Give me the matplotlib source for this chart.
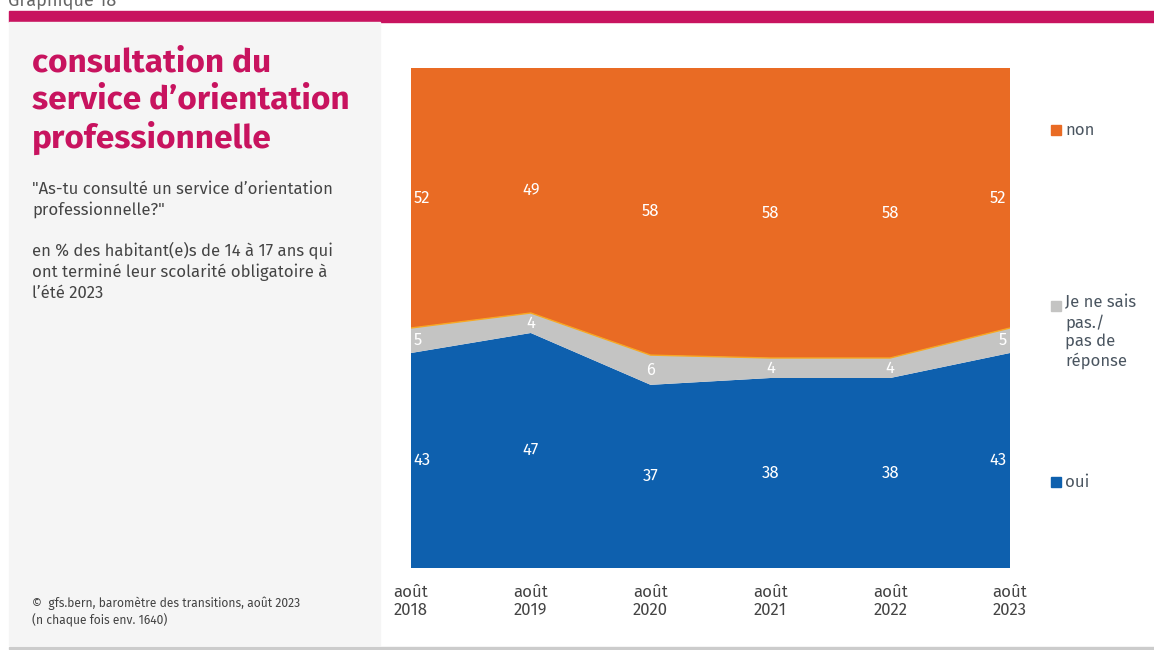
import numpy as np
import matplotlib.pyplot as plt
from matplotlib.patches import Rectangle

plt.rcParams['font.family'] = ['Fira Sans', 'Open Sans', 'DejaVu Sans']

years = ['août\n2018', 'août\n2019', 'août\n2020', 'août\n2021', 'août\n2022', 'août\n2023']
oui = [43, 47, 37, 38, 38, 43]
jsp = [5, 4, 6, 4, 4, 5]
non = [52, 49, 58, 58, 58, 52]
series_names = ['oui', 'Je ne sais\npas./\npas de\nréponse', 'non']
colors = ['#0E60AE', '#C4C4C3', '#E96B24']

W, H = 1154, 650
fig = plt.figure(figsize=(W / 100, H / 100), dpi=100)

def fx(px):
    return px / W

def fy(py):
    return 1 - py / H

# cadre de la page
fig.patches.append(Rectangle((fx(9), fy(22)), fx(1154 - 9), fy(11) - fy(22),
                             transform=fig.transFigure, color='#C8135F', zorder=0))
fig.patches.append(Rectangle((fx(9), fy(645)), fx(380 - 9), fy(22) - fy(645),
                             transform=fig.transFigure, color='#F5F5F5', zorder=0))
fig.patches.append(Rectangle((fx(9), fy(649)), fx(1154 - 9), fy(647) - fy(649),
                             transform=fig.transFigure, color='#CCCCCC', zorder=0))
fig.text(fx(8), fy(1), 'Graphique 18', fontsize=13, color='#666666', va='center')

fig.text(fx(32), fy(47), 'consultation du\nservice d\u2019orientation\nprofessionnelle',
         fontsize=24, fontweight='bold', color='#C8135F', va='top', linespacing=1.2)
fig.text(fx(32), fy(181), '"As-tu consulté un service d\u2019orientation\nprofessionnelle?"',
         fontsize=12, color='#444444', va='top', linespacing=1.3)
fig.text(fx(32), fy(242), 'en % des habitant(e)s de 14 à 17 ans qui\nont terminé leur scolarité obligatoire à\nl\u2019été 2023',
         fontsize=12, color='#444444', va='top', linespacing=1.3)
fig.text(fx(32), fy(597), '\u00a9  gfs.bern, baromètre des transitions, août 2023\n(n chaque fois env. 1640)',
         fontsize=8.7, color='#444444', va='top', linespacing=1.3)

ax = fig.add_axes([fx(411), fy(568), fx(1010 - 411), fy(68) - fy(568)])
x = np.arange(len(years))
data = np.array([oui, jsp, non], dtype=float)
shares = data / data.sum(axis=0) * 100

ax.stackplot(x, shares, colors=colors, linewidth=0)
# fine ligne jaune au bord supérieur de la bande grise
ax.plot(x, shares[0] + shares[1], color='#F7A823', lw=1, zorder=3)

bottoms = np.vstack([np.zeros(len(x)), np.cumsum(shares, axis=0)[:-1]])
for i in range(len(x)):
    ha = 'left' if i == 0 else ('right' if i == len(x) - 1 else 'center')
    xo = x[i] + (0.02 if i == 0 else (-0.03 if i == len(x) - 1 else 0))
    for s in range(3):
        yc = bottoms[s, i] + shares[s, i] / 2
        ax.text(xo, yc, f'{int(data[s, i])}', color='white', fontsize=12,
                ha=ha, va='center', zorder=4)

ax.set_xlim(0, len(x) - 1)
ax.set_ylim(0, 100)
ax.set_yticks([])
ax.set_xticks(x)
ax.set_xticklabels(years, fontsize=12, color='#444444', linespacing=1.15)
ax.tick_params(axis='x', length=0, pad=12)
for sp in ax.spines.values():
    sp.set_visible(False)

# légende à droite
legend_y = [130, 306, 482]
for name, c, ly in zip(['non', series_names[1], 'oui'], [colors[2], colors[1], colors[0]], legend_y):
    fig.patches.append(Rectangle((fx(1051), fy(ly + 5)), fx(10), fy(ly - 5) - fy(ly + 5),
                                 transform=fig.transFigure, color=c))
    fig.text(fx(1065), fy(ly - 11) if '\n' in name else fy(ly), name, fontsize=12,
             color='#4A5560', va='top' if '\n' in name else 'center', linespacing=1.2)

fig.savefig('out.png', dpi=100)
